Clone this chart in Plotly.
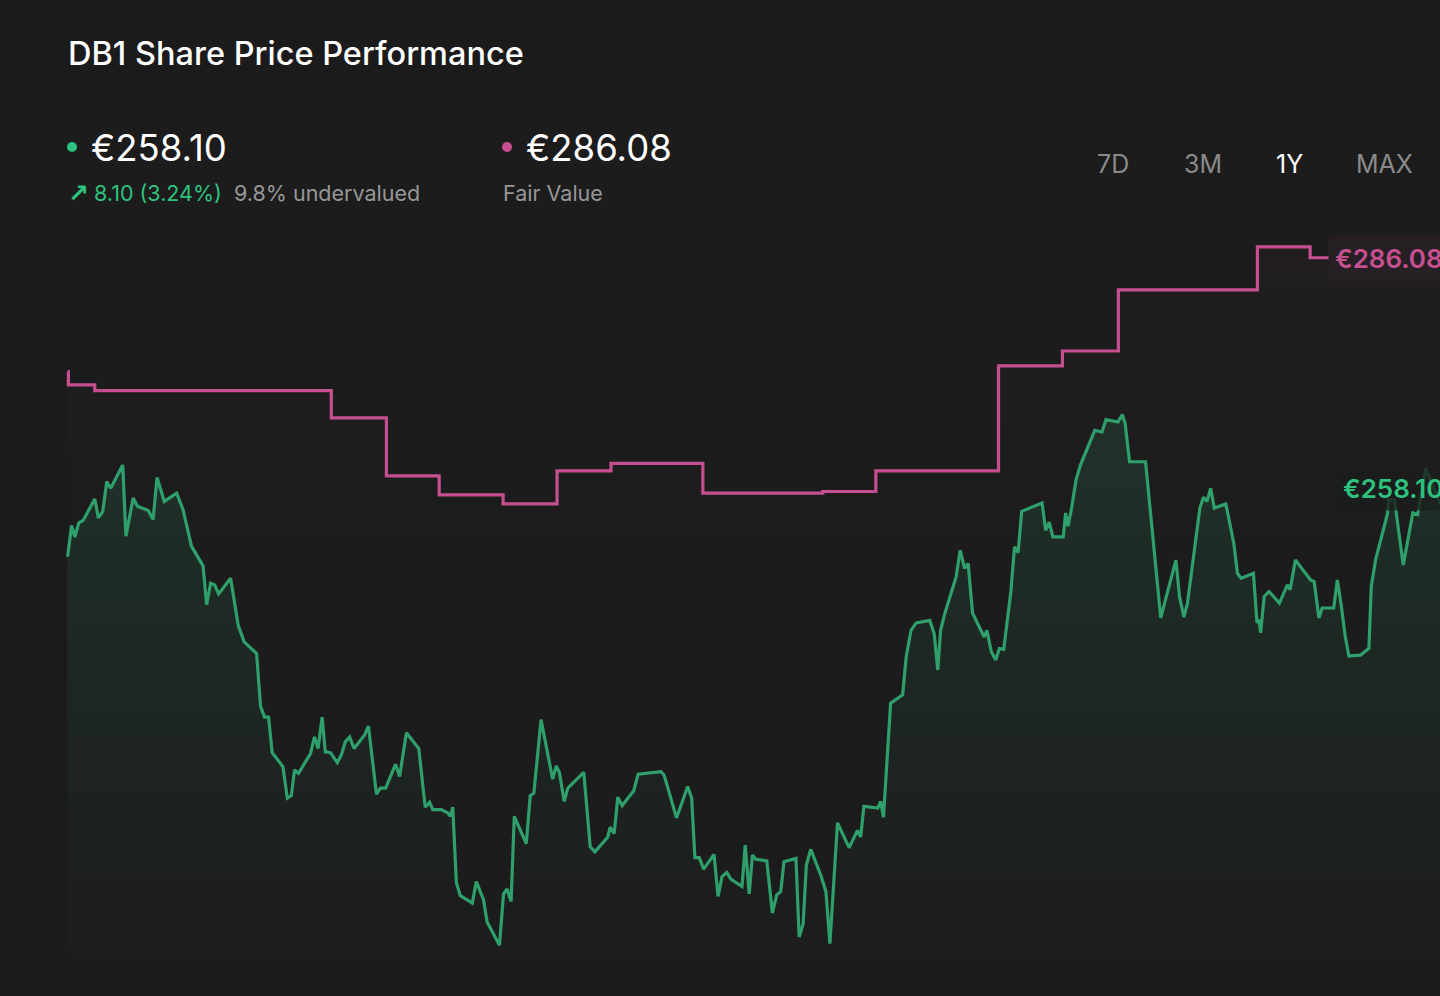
import plotly.graph_objects as go

# share price, x = days since the start of the 1Y window
day = [0, 1.0, 1.8, 2.8, 3.9, 6.8, 7.7, 8.8, 9.8, 10.8, 13.8, 14.6, 16.4, 17.5, 20.2, 21.4,
       22.4, 24.2, 27.3, 28.9, 31.0, 33.9, 34.8, 35.8, 36.8, 37.8, 40.8, 42.7, 44.2, 47.3,
       48.3, 49.3, 50.3, 51.2, 53.9, 55.0, 56.0, 56.8, 57.8, 60.8, 61.8, 62.7, 63.7, 64.5,
       65.8, 67.5, 68.5, 69.5, 70.6, 71.7, 74.3, 75.3, 77.3, 78.3, 79.6, 82.1, 83.1, 84.8,
       87.9, 89.5, 90.6, 91.4, 93.5, 95.2, 95.8, 96.4, 97.3, 98.3, 101.3, 102.3, 104.1,
       105.0, 108.1, 109.1, 110.0, 111.0, 111.8, 114.8, 115.8, 116.7, 118.5, 121.4, 122.3,
       123.1, 124.3, 125.2, 129.2, 130.8, 132.0, 135.2, 135.8, 136.8, 137.7, 138.8, 141.7,
       142.8, 148.5, 149.3, 152.4, 155.2, 156.2, 157.0, 158.1, 159.2, 161.8, 162.8, 163.8,
       165.0, 166.0, 168.8, 169.6, 170.6, 171.4, 172.3, 175.0, 176.4, 177.5, 178.5, 179.3,
       182.3, 183.1, 184.1, 184.9, 186.0, 188.5, 189.8, 190.8, 192.7, 195.6, 197.7, 198.5,
       199.3, 202.8, 203.5, 204.2, 206.0, 209.0, 209.9, 211.1, 212.4, 215.8, 216.9, 217.8,
       218.5, 219.6, 222.4, 223.4, 224.5, 225.4, 226.5, 229.4, 230.1, 231.2, 232.3, 233.2,
       234.3, 236.1, 237.0, 237.9, 238.8, 243.9, 244.8, 245.7, 246.6, 249.2, 249.8, 250.4,
       251.3, 252.4, 253.5, 257.1, 258.9, 259.9, 262.9, 264.0, 264.7, 265.8, 269.8, 273.6,
       277.4, 278.3, 279.4, 280.3, 283.4, 284.3, 285.2, 286.1, 287.0, 289.9, 291.9, 292.8,
       293.7, 296.8, 297.7, 298.2, 298.6, 299.5, 300.7, 303.3, 305.3, 306.0, 307.3, 311.1,
       312.0, 313.2, 314.0, 316.9, 317.8, 318.7, 319.8, 320.7, 323.6, 325.7, 326.3, 327.4,
       330.3, 330.7, 332.1, 334.3, 336.7, 337.9, 339.9, 343.5, 345.5, 347.5]
price = [249.9, 253.7, 252.3, 254.0, 254.3, 256.9, 254.6, 255.4, 259.0, 258.2, 261.0, 252.4,
         257.0, 256.0, 255.5, 254.4, 259.5, 256.6, 257.6, 255.6, 251.2, 248.8, 244.1, 246.7,
         246.5, 245.4, 247.3, 241.6, 239.6, 238.2, 231.8, 230.5, 230.5, 226.2, 224.5, 220.7,
         221.0, 224.1, 223.7, 226.1, 228.1, 226.7, 230.5, 226.3, 226.2, 225.0, 225.9, 227.5,
         228.1, 226.7, 228.3, 229.4, 221.2, 221.9, 221.9, 224.8, 223.3, 228.6, 226.7, 219.6,
         220.2, 219.3, 219.3, 218.9, 218.5, 219.6, 210.5, 208.9, 208.0, 210.6, 208.4, 205.7,
         202.9, 209.1, 209.7, 208.2, 218.5, 215.2, 221.0, 221.3, 230.2, 223.0, 224.6, 223.8,
         220.3, 221.9, 223.8, 214.8, 214.2, 216.0, 217.2, 216.4, 220.8, 219.8, 221.6, 223.6,
         223.9, 223.5, 218.3, 222.1, 220.7, 213.5, 213.5, 212.1, 213.9, 208.8, 211.2, 211.7,
         210.9, 210.0, 215.0, 209.1, 213.8, 213.3, 213.1, 206.8, 209.0, 209.4, 213.0, 213.4,
         203.9, 205.5, 212.6, 214.5, 211.4, 209.4, 203.1, 217.7, 214.7, 216.8, 216.0, 219.7,
         219.5, 220.3, 218.4, 232.2, 233.2, 237.8, 241.0, 241.9, 242.2, 240.6, 236.2, 241.0,
         243.1, 247.5, 250.7, 248.5, 249.1, 243.1, 240.2, 241.0, 238.4, 237.4, 238.8, 238.7,
         245.7, 251.1, 250.4, 255.4, 256.4, 253.1, 254.1, 252.3, 252.3, 255.2, 253.6, 255.8,
         259.2, 261.0, 265.2, 265.0, 266.5, 266.2, 267.1, 266.0, 261.4, 261.4, 242.5, 249.5,
         245.1, 242.6, 244.3, 255.8, 257.1, 256.6, 258.2, 255.8, 256.3, 251.5, 247.9, 247.3,
         247.9, 241.9, 242.3, 240.7, 245.1, 245.7, 244.3, 246.5, 245.9, 249.5, 247.1, 246.9,
         242.5, 243.7, 243.7, 247.1, 244.3, 240.2, 237.9, 238.0, 238.8, 246.3, 249.6, 255.0,
         256.8, 256.8, 248.9, 255.2, 255.0, 260.6, 256.4, 255.3, 258.1]

# fair value estimate (step changes)
fv_day = [0, 0.2, 6.8, 66.0, 79.8, 93.0, 109.0, 122.5, 136.0, 159.0, 189.0, 202.3, 233.0,
          249.0, 263.0, 297.8, 311.0, 347.5]
fair_value = [272.3, 270.7, 270.0, 266.7, 259.7, 257.4, 256.3, 260.3, 261.2, 257.6, 257.8,
              260.3, 273.0, 274.8, 282.2, 287.4, 286.08, 286.08]

last_price = "€258.10"
last_fv = "€286.08"
change_text = "8.10 (3.24%)"
valuation_text = "9.8% undervalued"
ranges = ["7D", "3M", "1Y", "MAX"]
selected_range = "1Y"

BG = "#1b1b1b"
GREEN = "#2f9f6c"
GREEN_TXT = "#2ec27e"
PINK = "#c64f91"
GREY = "#979797"
FONT = "Inter"

W, H = 1440, 996
L, R, T, B = 66, 0, 220, 6


def paper(x, y):
    # figure pixel -> paper coordinates
    return (x - L) / (W - L - R), (H - B - y) / (H - T - B)


def label(x, y, s, size, color, xanchor="left", weight=400, family=FONT, **kw):
    px, py = paper(x, y)
    return dict(x=px, y=py, xref="paper", yref="paper", text=s, showarrow=False,
                xanchor=xanchor, yanchor="middle",
                font=dict(family=family, size=size, color=color, weight=weight), **kw)


fig = go.Figure()

# fair value step line
fig.add_trace(go.Scatter(
    x=fv_day, y=fair_value, mode="lines", line=dict(color=PINK, width=3.2, shape="hv"),
    fill="tozeroy",
    fillgradient=dict(type="vertical", start=250, stop=288,
                      colorscale=[[0, "rgba(198,79,145,0)"], [1, "rgba(198,79,145,0.03)"]]),
    hoverinfo="skip", showlegend=False,
))

# share price line
fig.add_trace(go.Scatter(
    x=day, y=price, mode="lines", line=dict(color=GREEN, width=3.2),
    fill="tozeroy",
    fillgradient=dict(type="vertical", start=200, stop=267,
                      colorscale=[[0, "rgba(47,159,108,0)"], [1, "rgba(47,159,108,0.16)"]]),
    hoverinfo="skip", showlegend=False,
))

annotations = [
    label(66, 53, "DB1 Share Price Performance", 32.5, "#ffffff", weight=500),
    label(89, 148, last_price, 36.5, "#ffffff"),
    label(66, 193, "↗", 25, GREEN_TXT, weight=700, family="DejaVu Sans"),
    label(92, 193, change_text, 21.5, GREEN_TXT),
    label(232, 193, valuation_text, 21.5, GREY),
    label(524, 148, last_fv, 36.5, "#ffffff"),
    label(501, 193, "Fair Value", 21.5, GREY),
    label(1328, 258, last_fv, 26, PINK, weight=600, bgcolor="#261f23", borderpad=6),
    label(1336, 489, last_price, 26, GREEN_TXT, weight=600,
          bgcolor="rgba(26,30,28,0.8)", borderpad=6),
]
for name, cx in zip(ranges, [1113, 1203, 1289, 1384]):
    annotations.append(label(cx, 164, name, 25,
                             "#ffffff" if name == selected_range else "#8a8a8a",
                             xanchor="center"))

shapes = []
# faint chart panel
x0, y0 = paper(66, 115)
x1, y1 = paper(1440, 996)
shapes.append(dict(type="rect", xref="paper", yref="paper", x0=x0, y0=y1, x1=x1, y1=y0,
                   fillcolor="#1c1c1c", line=dict(width=0), layer="below"))
# legend dots
for cx, color in [(72, GREEN_TXT), (507, PINK)]:
    ax, ay = paper(cx - 5, 142)
    bx, by = paper(cx + 5, 152)
    shapes.append(dict(type="circle", xref="paper", yref="paper", x0=ax, y0=by, x1=bx, y1=ay,
                       fillcolor=color, line=dict(width=0)))

fig.update_layout(
    width=W, height=H,
    margin=dict(l=L, r=R, t=T, b=B),
    paper_bgcolor=BG, plot_bgcolor="rgba(0,0,0,0)",
    font=dict(family=FONT, color="#ffffff"),
    xaxis=dict(range=[-0.4, 343.5], visible=False, showgrid=False, zeroline=False),
    yaxis=dict(range=[197.48, 290.65], visible=False, showgrid=False, zeroline=False),
    annotations=annotations,
    shapes=shapes,
    hovermode=False,
)

fig.write_html(
    "out.html",
    config={"displayModeBar": False},
    post_script="document.body.style.margin='0';document.body.style.background='#1b1b1b';",
)
